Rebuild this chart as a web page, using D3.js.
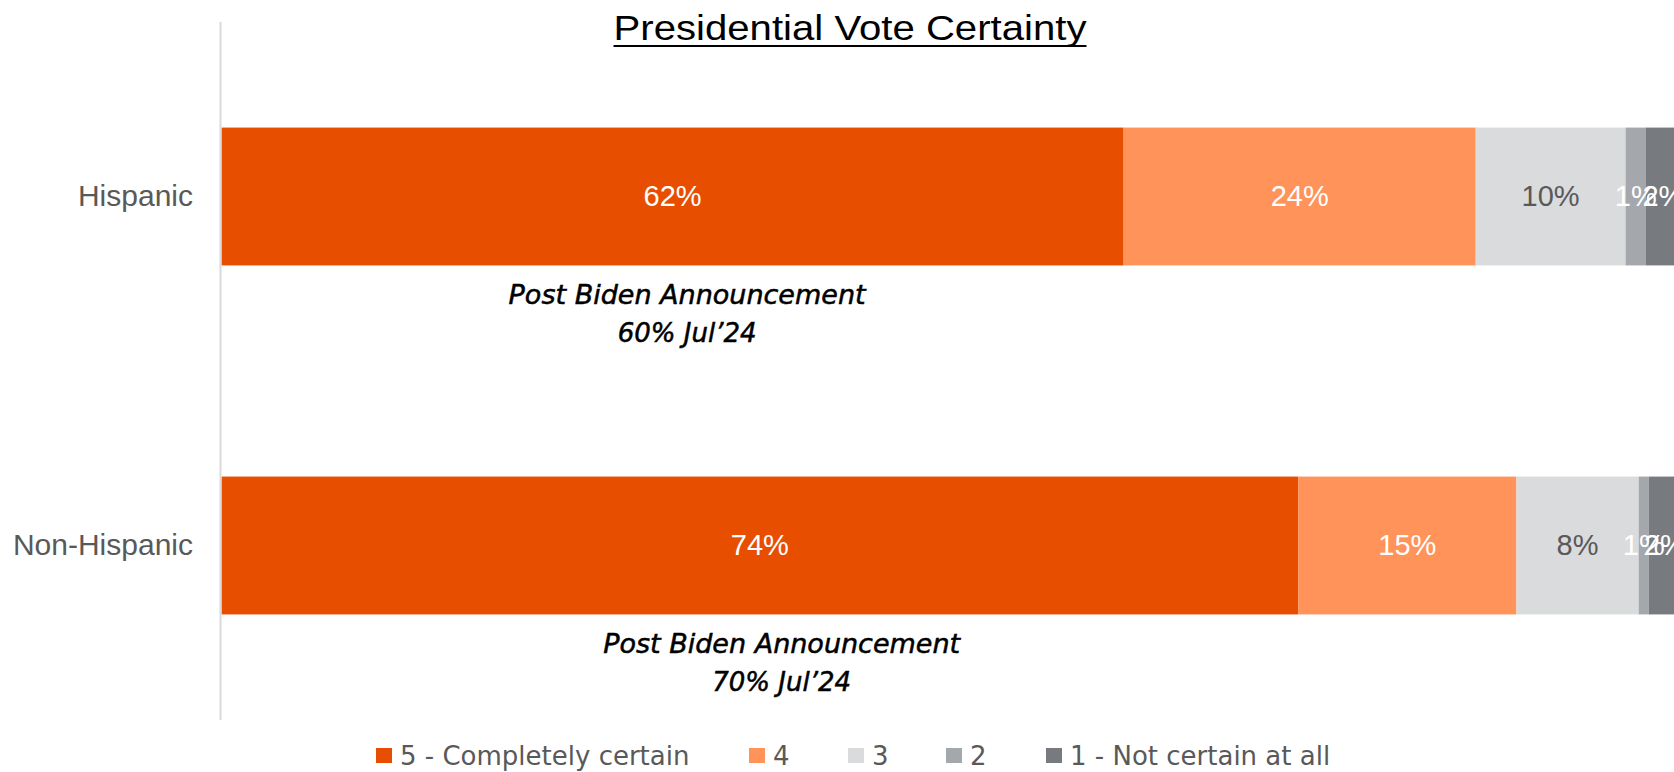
<!DOCTYPE html>
<html>
<head>
<meta charset="utf-8">
<script src="https://cdn.jsdelivr.net/npm/d3@7"></script>
<style>
  html, body { margin: 0; padding: 0; background: #fff; }
  svg { display: block; }
</style>
</head>
<body>
<svg id="chart" width="1674" height="772"></svg>
<script>
// Presidential vote certainty — stacked horizontal bars

const categories = ['Hispanic', 'Non-Hispanic'];
const seriesNames = ['5 - Completely certain', '4', '3', '2', '1 - Not certain at all'];
const seriesColors = ['#E84E00', '#FF9359', '#DADBDD', '#A4A7AB', '#777B80'];
const labelColors = ['#ffffff', '#ffffff', '#595959', '#ffffff', '#ffffff'];

// percent per category, in series order (labels are rounded)
const hispanicValues = [62, 24.2, 10.3, 1.4, 2.4];
const nonHispanicValues = [74, 15, 8.4, 0.7, 2.2];

// annotation under each bar: centre (in % units) and lines of text
const noteCenters = [32, 38.5];
const noteLines = [
  ['Post Biden Announcement', '60% Jul\u201924'],
  ['Post Biden Announcement', '70% Jul\u201924']
];

const values = [hispanicValues, nonHispanicValues];

const svg = d3.select('#chart');
const font = '"Liberation Sans", Arial, sans-serif';
const wide = '"DejaVu Sans", "Liberation Sans", sans-serif';

const x = d3.scaleLinear().domain([0, 100]).range([221.5, 1676.5]);
const y = d3.scaleBand().domain(categories).range([22, 720])
  .paddingInner(0.605).paddingOuter(0.3025);

// stacked rows
const rows = categories.map((c, i) => {
  let acc = 0;
  return values[i].map((v, k) => {
    const seg = { cat: c, k, v, x0: acc, x1: acc + v };
    acc += v;
    return seg;
  });
});

const segs = rows.flat();

svg.append('g').selectAll('rect')
  .data(segs)
  .join('rect')
  .attr('x', d => x(d.x0))
  .attr('y', d => y(d.cat))
  .attr('width', d => x(d.x1) - x(d.x0))
  .attr('height', y.bandwidth())
  .attr('fill', d => seriesColors[d.k]);

svg.append('g').selectAll('text')
  .data(segs)
  .join('text')
  .attr('x', d => (x(d.x0) + x(d.x1)) / 2)
  .attr('y', d => y(d.cat) + y.bandwidth() / 2 + 2)
  .attr('text-anchor', 'middle')
  .attr('dominant-baseline', 'middle')
  .attr('font-family', font)
  .attr('font-size', 29)
  .attr('fill', d => labelColors[d.k])
  .text(d => Math.round(d.v) + '%');

// category axis
svg.append('line')
  .attr('x1', 220.5).attr('x2', 220.5)
  .attr('y1', 22).attr('y2', 720)
  .attr('stroke', '#d9d9d9').attr('stroke-width', 2);

svg.append('g').selectAll('text')
  .data(categories)
  .join('text')
  .attr('x', 193)
  .attr('y', d => y(d) + y.bandwidth() / 2 + 2)
  .attr('text-anchor', 'end')
  .attr('dominant-baseline', 'middle')
  .attr('font-family', font)
  .attr('font-size', 30)
  .attr('fill', '#595959')
  .text(d => d);

// annotations (slight stroke for the medium weight)
categories.forEach((c, i) => {
  const cx = x(noteCenters[i]);
  noteLines[i].forEach((s, j) => {
    const t = svg.append('text')
      .attr('x', cx)
      .attr('y', y(c) + y.bandwidth() + 39 + j * 38)
      .attr('text-anchor', 'middle')
      .attr('font-family', wide)
      .attr('font-style', 'italic')
      .attr('font-size', 26)
      .attr('fill', '#000')
      .attr('stroke', '#000')
      .attr('stroke-width', 0.5)
      .text(s);
    if (j === 0) t.attr('textLength', 357).attr('lengthAdjust', 'spacingAndGlyphs');
  });
});

// title, underlined
svg.append('text')
  .attr('x', 850).attr('y', 40)
  .attr('text-anchor', 'middle')
  .attr('font-family', font)
  .attr('font-size', 35)
  .attr('fill', '#000')
  .attr('textLength', 473)
  .attr('lengthAdjust', 'spacingAndGlyphs')
  .text('Presidential Vote Certainty');
svg.append('line')
  .attr('x1', 850 - 473 / 2).attr('x2', 850 + 473 / 2)
  .attr('y1', 46).attr('y2', 46)
  .attr('stroke', '#000').attr('stroke-width', 2);

// legend
const legendX = [376, 749, 848, 946, 1046];
const legend = svg.append('g').selectAll('g')
  .data(seriesNames)
  .join('g')
  .attr('transform', (d, i) => `translate(${legendX[i]},756)`);
legend.append('rect')
  .attr('x', 0).attr('y', -8)
  .attr('width', 16).attr('height', 15)
  .attr('fill', (d, i) => seriesColors[i]);
legend.append('text')
  .attr('x', 24).attr('y', 1)
  .attr('dominant-baseline', 'middle')
  .attr('font-family', wide)
  .attr('font-size', 26)
  .attr('fill', '#595959')
  .text(d => d);
</script>
</body>
</html>
